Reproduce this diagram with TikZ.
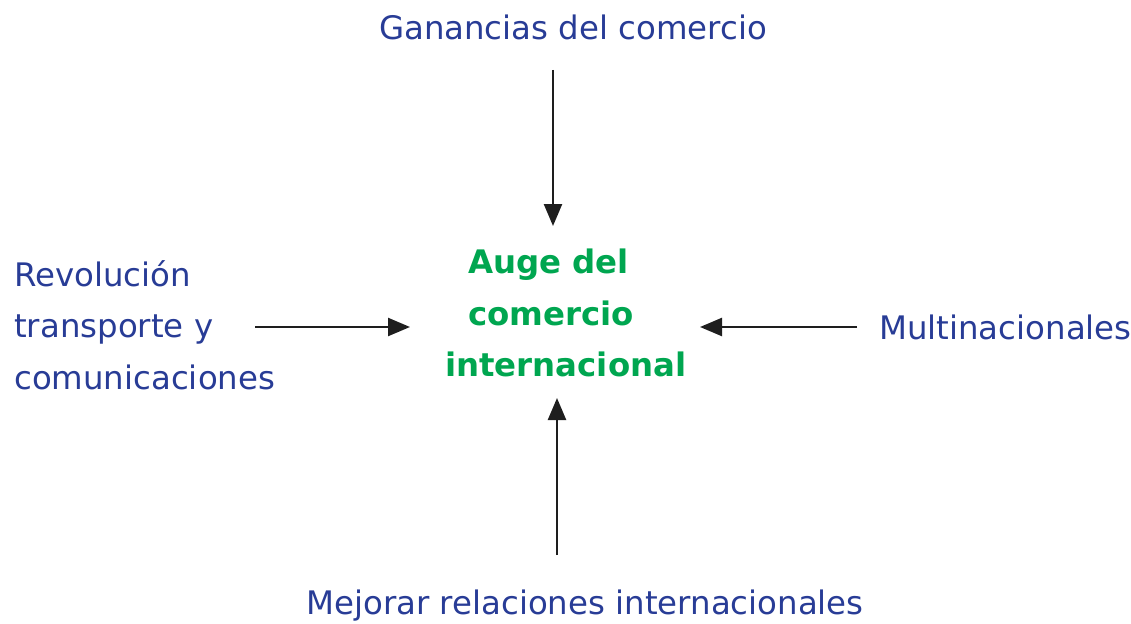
\documentclass[tikz,border=0pt]{standalone}
\usepackage{fontspec}
\setmainfont{DejaVu Sans}
\usetikzlibrary{arrows.meta}
\definecolor{txtblue}{RGB}{40,60,150}
\definecolor{txtgreen}{RGB}{0,166,80}
\begin{document}
\begin{tikzpicture}[x=1pt,y=-1pt,
  lbl/.style={inner sep=0pt,text=txtblue,font=\fontsize{32.4}{51.5}\selectfont},
  ctr/.style={inner sep=0pt,text=txtgreen,font=\fontsize{32.4}{51.5}\selectfont\bfseries},
  arr/.style={line width=2.4pt,draw={rgb,255:red,30;green,30;blue,30},-{Triangle[length=22pt,width=18pt]}}]
\useasboundingbox (0,0) rectangle (1131,623);
\node[lbl,anchor=center] (top) at (573,27) {Ganancias del comercio};
\node[lbl,anchor=west,align=left] (left) at (14,325) {Revolución\\transporte y\\comunicaciones};
\node[lbl,anchor=west] (right) at (879,327) {Multinacionales};
\node[lbl,anchor=center] (bot) at (585,606) {Mejorar relaciones internacionales};
\node[ctr,anchor=west,align=left] (mid) at (445,313) {\hspace*{23pt}Auge del\\\hspace*{23pt}comercio\\internacional};
\coordinate (tA) at (553,70);  \coordinate (tB) at (553,226);
\coordinate (lA) at (255,327); \coordinate (lB) at (410,327);
\coordinate (rA) at (857,327); \coordinate (rB) at (700,327);
\coordinate (bA) at (557,555); \coordinate (bB) at (557,398);
\draw[arr] (tA) -- (tB);
\draw[arr] (lA) -- (lB);
\draw[arr] (rA) -- (rB);
\draw[arr] (bA) -- (bB);
\end{tikzpicture}
\end{document}
